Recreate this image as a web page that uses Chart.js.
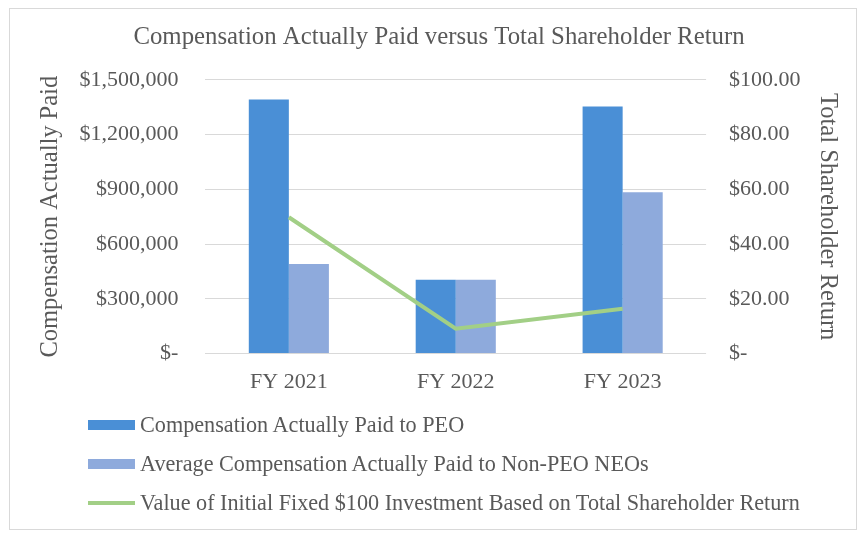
<!DOCTYPE html>
<html>
<head>
<meta charset="utf-8">
<script src="https://cdn.jsdelivr.net/npm/chart.js@4"></script>
<style>
  html, body { margin: 0; padding: 0; background: #fff; }
  #wrap { position: relative; width: 866px; height: 536px; }
  #frame { position: absolute; left: 9px; top: 8px; width: 846px; height: 520px; border: 1px solid #d9d9d9; }
  #chart { position: absolute; left: 0; top: 0; }
  #legend { position: absolute; left: 88px; top: 405px; font-family: 'Liberation Serif', 'Times New Roman', serif; font-size: 22.2px; color: #595959; }
  #legend .row { height: 39px; display: flex; align-items: center; }
  #legend .sw { width: 47px; margin-right: 5px; }
</style>
</head>
<body>
<div id="wrap">
  <div id="frame"></div>
  <canvas id="chart" width="866" height="536"></canvas>
  <div id="legend"></div>
</div>
<script>
const years = ['FY 2021', 'FY 2022', 'FY 2023'];
const peoPaid = [1392000, 404000, 1353000];
const neoPaid = [491000, 404000, 884000];
const tsrValue = [49.8, 9.1, 16.4];

const seriesNames = [
  'Compensation Actually Paid to PEO',
  'Average Compensation Actually Paid to Non-PEO NEOs',
  'Value of Initial Fixed $100 Investment Based on Total Shareholder Return'
];
const seriesColors = ['#4a8fd6', '#8eaadc', '#a2cf86'];

const serif = "'Liberation Serif', 'Times New Roman', serif";
const grey = '#595959';

const chart = new Chart(document.getElementById('chart'), {
  type: 'bar',
  data: {
    labels: years,
    datasets: [
      { type: 'line', label: seriesNames[2], data: tsrValue, yAxisID: 'yR',
        borderColor: seriesColors[2], backgroundColor: seriesColors[2],
        borderWidth: 4, pointRadius: 0, tension: 0, order: 0 },
      { label: seriesNames[0], data: peoPaid, yAxisID: 'yL',
        backgroundColor: seriesColors[0], order: 1 },
      { label: seriesNames[1], data: neoPaid, yAxisID: 'yL',
        backgroundColor: seriesColors[1], order: 1 }
    ]
  },
  options: {
    responsive: false,
    animation: false,
    layout: { padding: { top: 23, left: 36, right: 24, bottom: 126 } },
    datasets: { bar: { categoryPercentage: 0.48, barPercentage: 1 } },
    plugins: {
      legend: { display: false },
      tooltip: { enabled: false },
      title: {
        display: true,
        text: 'Compensation Actually Paid versus Total Shareholder Return',
        color: grey,
        font: { family: serif, size: 24.8, weight: 'normal' },
        padding: { top: 0, bottom: 27 }
      }
    },
    scales: {
      x: {
        grid: { display: false, drawTicks: false },
        border: { display: false },
        ticks: { color: grey, font: { family: serif, size: 22 }, padding: 15 }
      },
      yL: {
        position: 'left',
        min: 0, max: 1500000,
        ticks: {
          stepSize: 300000, color: grey, padding: 27,
          font: { family: serif, size: 22 },
          callback: v => v === 0 ? '$-' : '$' + v.toLocaleString('en-US')
        },
        grid: { color: '#d9d9d9', drawTicks: false },
        border: { display: false },
        // tick padding is counted twice when the axis is sized, so pull the title in
        title: { display: true, text: 'Compensation Actually Paid', color: grey,
                 font: { family: serif, size: 24.5 }, padding: { top: 0, bottom: -13 } }
      },
      yR: {
        position: 'right',
        min: 0, max: 100,
        ticks: {
          stepSize: 20, color: grey, padding: 23,
          font: { family: serif, size: 22 },
          callback: v => v === 0 ? '$-' : '$' + v.toFixed(2)
        },
        grid: { display: false, drawTicks: false },
        border: { display: false },
        title: { display: true, text: 'Total Shareholder Return', color: grey,
                 font: { family: serif, size: 24.5 }, padding: { top: 0, bottom: -11 } }
      }
    }
  }
});

// legend in the reference is a vertical list
const leg = document.getElementById('legend');
[1, 2, 0].forEach(i => {
  const ds = chart.data.datasets[i];
  const row = document.createElement('div');
  row.className = 'row';
  const sw = document.createElement('span');
  sw.className = 'sw';
  sw.style.height = ds.type === 'line' ? '4px' : '10px';
  sw.style.background = ds.backgroundColor;
  const txt = document.createElement('span');
  txt.textContent = ds.label;
  row.appendChild(sw);
  row.appendChild(txt);
  leg.appendChild(row);
});
</script>
</body>
</html>
